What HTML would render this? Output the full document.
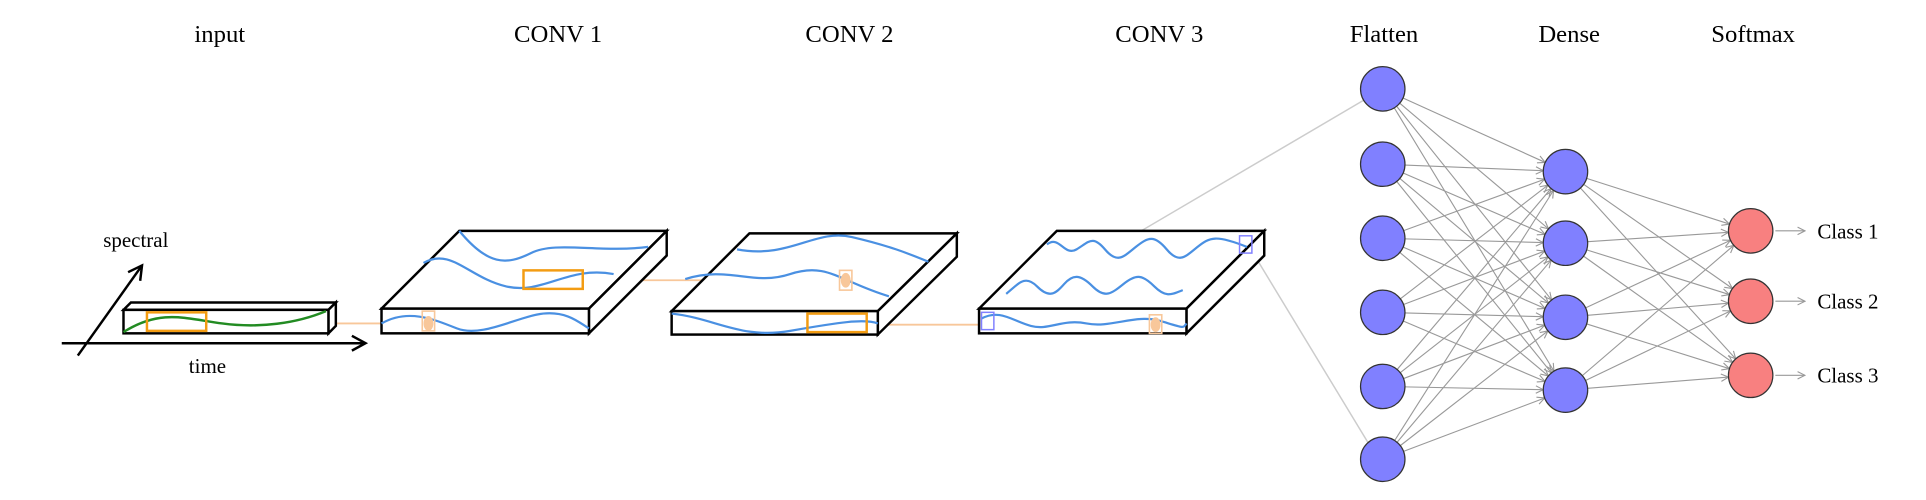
<!DOCTYPE html>
<html><head><meta charset="utf-8"><style>html,body{margin:0;padding:0;background:#fff}svg{display:block}</style></head>
<body>
<svg width="1926" height="500" viewBox="0 0 1560 405" xmlns="http://www.w3.org/2000/svg" font-family="'Liberation Serif',serif">
<defs>
<marker id="ga" markerWidth="8" markerHeight="8" refX="7" refY="4" orient="auto" markerUnits="userSpaceOnUse"><path d="M1,1 L7,4 L1,7" fill="none" stroke="#999" stroke-width="0.9"/></marker>
<marker id="ka" markerWidth="14" markerHeight="14" refX="12" refY="7" orient="auto" markerUnits="userSpaceOnUse"><path d="M1,1 L12,7 L1,13" fill="none" stroke="#000" stroke-width="2"/></marker>
</defs>
<g font-size="20" text-anchor="middle" fill="#000">
<text x="178" y="34">input</text><text x="452" y="34">CONV 1</text><text x="688" y="34">CONV 2</text><text x="939" y="34">CONV 3</text>
<text x="1121" y="34">Flatten</text><text x="1271" y="34">Dense</text><text x="1420" y="34">Softmax</text>
<text x="110" y="200" font-size="17">spectral</text><text x="168" y="302" font-size="17">time</text>
</g>
<g font-size="17" fill="#000"><text x="1472" y="193">Class 1</text><text x="1472" y="250">Class 2</text><text x="1472" y="310">Class 3</text></g>
<!-- axes -->
<line x1="50" y1="278" x2="296" y2="278" stroke="#000" stroke-width="2" marker-end="url(#ka)"/>
<line x1="63" y1="288" x2="115" y2="215" stroke="#000" stroke-width="2" marker-end="url(#ka)"/>
<!-- faint lines -->
<line x1="800" y1="260" x2="1110" y2="78" stroke="#ccc" stroke-width="1.2"/>
<line x1="1015" y1="205" x2="1112" y2="365" stroke="#ccc" stroke-width="1.2"/>
<!-- orange connectors -->
<g stroke="#f8c79a" stroke-width="1.5" fill="none">
<line x1="168" y1="262" x2="347" y2="262"/><line x1="472" y1="227" x2="685" y2="227"/><line x1="703" y1="263" x2="936" y2="263"/>
</g>
<!-- input box -->
<g stroke="#000" stroke-width="2" fill="#fff">
<path d="M100,251 L106,245 L272,245 L266,251 Z"/><path d="M266,251 L272,245 L272,264 L266,270 Z"/><rect x="100" y="251" width="166" height="19"/>
</g>
<path d="M100,269 C130,250 150,258 180,262 S240,262 264,252" stroke="#228b22" stroke-width="2" fill="none"/>
<rect x="119" y="253" width="48" height="15" stroke="#f39c12" stroke-width="2" fill="none"/>
<!-- conv1 -->
<g stroke="#000" stroke-width="2" fill="#fff">
<path d="M309,250 L372,187 L540,187 L477,250 Z"/><path d="M477,250 L540,187 L540,207 L477,270 Z"/><rect x="309" y="250" width="168" height="20"/>
</g>
<g stroke="#4a90e2" stroke-width="1.8" fill="none">
<path d="M372,187 C395,215 410,215 430,205 S485,205 525,200"/>
<path d="M343,213 C365,200 380,225 410,232 S460,215 497,222"/>
<path d="M309,262 C330,250 350,258 370,266 S420,256 440,254 S470,262 477,266"/>
</g>
<rect x="424" y="219" width="48" height="15" stroke="#f39c12" stroke-width="2" fill="none"/>
<rect x="342" y="252" width="10" height="16" stroke="#f8c79a" stroke-width="1.3" fill="none"/><ellipse cx="347" cy="262" rx="4" ry="6" fill="#f8c79a"/>
<!-- conv2 -->
<g stroke="#000" stroke-width="2" fill="#fff">
<path d="M544,252 L607,189 L775,189 L711,252 Z"/><path d="M711,252 L775,189 L775,208 L711,271 Z"/><rect x="544" y="252" width="167" height="19"/>
</g>
<g stroke="#4a90e2" stroke-width="1.8" fill="none">
<path d="M597,202 C640,210 660,185 690,192 S735,205 752,212"/>
<path d="M555,226 C590,215 610,232 640,222 S680,228 720,240"/>
<path d="M544,254 C580,258 600,275 640,268 S700,258 711,262"/>
</g>
<rect x="654" y="254" width="48" height="15" stroke="#f39c12" stroke-width="2" fill="none"/>
<rect x="680" y="219" width="10" height="16" stroke="#f8c79a" stroke-width="1.3" fill="none"/><ellipse cx="685" cy="227" rx="4" ry="6" fill="#f8c79a"/>
<!-- conv3 -->
<g stroke="#000" stroke-width="2" fill="#fff">
<path d="M793,250 L856,187 L1024,187 L961,250 Z"/><path d="M961,250 L1024,187 L1024,207 L961,270 Z"/><rect x="793" y="250" width="168" height="20"/>
</g>
<g stroke="#4a90e2" stroke-width="1.8" fill="none">
<path d="M848,198 C858,190 862,208 872,202 S885,190 895,202 S910,208 920,200 S935,190 945,202 S960,208 970,200 S985,190 1010,200"/>
<path d="M815,238 C825,230 830,222 840,232 S855,238 862,230 S875,222 885,232 S900,238 910,230 S925,222 935,232 S950,238 958,235"/>
<path d="M795,258 C810,250 820,260 835,264 S860,258 880,262 S920,254 940,260 S958,266 961,262"/>
</g>
<rect x="795" y="253" width="10" height="14" stroke="#8080ff" stroke-width="1.2" fill="none"/>
<rect x="1004" y="191" width="10" height="14" stroke="#8080ff" stroke-width="1.2" fill="none"/>
<rect x="931" y="255" width="10" height="15" stroke="#f8c79a" stroke-width="1.3" fill="none"/><ellipse cx="936" cy="263" rx="4" ry="6" fill="#f8c79a"/>
<!-- NN edges -->
<g stroke="#999" stroke-width="0.9" marker-end="url(#ga)" id="edges"></g>
<g id="nodes" stroke="#333" stroke-width="1"></g>
<script>
var F=[72,133,193,253,313,372],D=[139,197,257,316],S=[187,244,304],e=document.getElementById('edges'),n=document.getElementById('nodes'),ns='http://www.w3.org/2000/svg',r=18;
function L(x1,y1,x2,y2){var dx=x2-x1,dy=y2-y1,d=Math.hypot(dx,dy),l=document.createElementNS(ns,'line');l.setAttribute('x1',x1+dx/d*r);l.setAttribute('y1',y1+dy/d*r);l.setAttribute('x2',x2-dx/d*r);l.setAttribute('y2',y2-dy/d*r);e.appendChild(l);}
F.forEach(function(a){D.forEach(function(b){L(1120,a,1268,b);});});
D.forEach(function(a){S.forEach(function(b){L(1268,a,1418,b);});});
S.forEach(function(a){var l=document.createElementNS(ns,'line');l.setAttribute('x1',1438);l.setAttribute('y1',a);l.setAttribute('x2',1462);l.setAttribute('y2',a);e.appendChild(l);});
function C(x,y,f){var c=document.createElementNS(ns,'circle');c.setAttribute('cx',x);c.setAttribute('cy',y);c.setAttribute('r',r);c.setAttribute('fill',f);n.appendChild(c);}
F.forEach(function(y){C(1120,y,'#8080ff');});D.forEach(function(y){C(1268,y,'#8080ff');});S.forEach(function(y){C(1418,y,'#f88080');});
</script>
</svg>
</body></html>
